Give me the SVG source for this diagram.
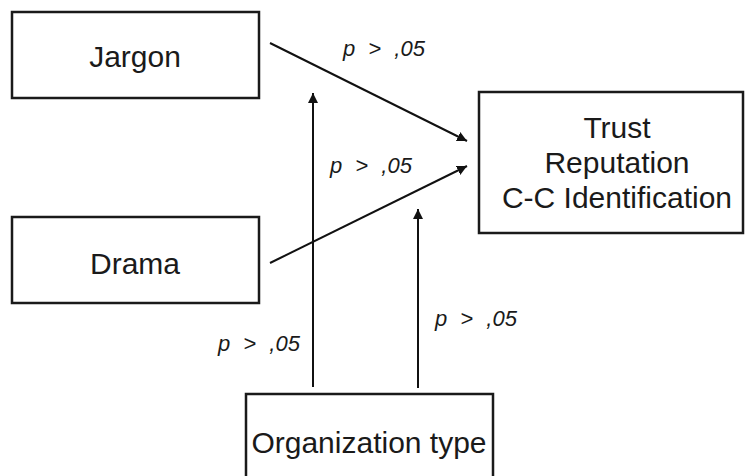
<svg xmlns="http://www.w3.org/2000/svg" width="746" height="476" viewBox="0 0 746 476">
<defs>
<style>
.box{fill:#fff;stroke:#1a1a1a;stroke-width:2.5}
.t{font-family:"Liberation Sans",Arial,sans-serif;font-size:30px;fill:#1a1a1a;text-anchor:middle}
.p{font-family:"Liberation Sans",Arial,sans-serif;font-size:22px;font-style:italic;fill:#1a1a1a;word-spacing:7px}
.c{stroke:#111;stroke-width:2;fill:none;marker-end:url(#ah)}
</style>
<marker id="ah" viewBox="0 0 10 10" refX="10" refY="5" markerWidth="5" markerHeight="5" orient="auto" markerUnits="strokeWidth">
<path d="M0,0 L10,5 L0,10 z" fill="#111"/>
</marker>
</defs>
<rect width="746" height="476" fill="#fff"/>
<g id="jargon"><rect class="box" x="12" y="12" width="247" height="86"/><text class="t" x="135" y="67">Jargon</text></g>
<g id="drama"><rect class="box" x="12" y="217" width="247" height="86"/><text class="t" x="135" y="274">Drama</text></g>
<g id="outcomes"><rect class="box" x="479" y="92" width="264" height="141"/>
<text class="t" x="617" y="138">Trust</text><text class="t" x="617" y="173">Reputation</text><text class="t" x="617" y="208">C-C Identification</text></g>
<g id="orgtype"><rect class="box" x="246" y="394" width="247" height="90"/><text class="t" x="369" y="453">Organization type</text></g>
<g id="connectors">
<line class="c" x1="270" y1="43" x2="467" y2="141"/>
<line class="c" x1="270" y1="263" x2="467" y2="166"/>
<line class="c" x1="313" y1="387" x2="313" y2="93"/>
<line class="c" x1="418" y1="388" x2="418" y2="209"/>
</g>
<g id="labels">
<text class="p" x="343" y="56">p &gt; ,05</text>
<text class="p" x="330" y="173">p &gt; ,05</text>
<text class="p" x="218" y="351">p &gt; ,05</text>
<text class="p" x="435" y="326">p &gt; ,05</text>
</g>
</svg>
